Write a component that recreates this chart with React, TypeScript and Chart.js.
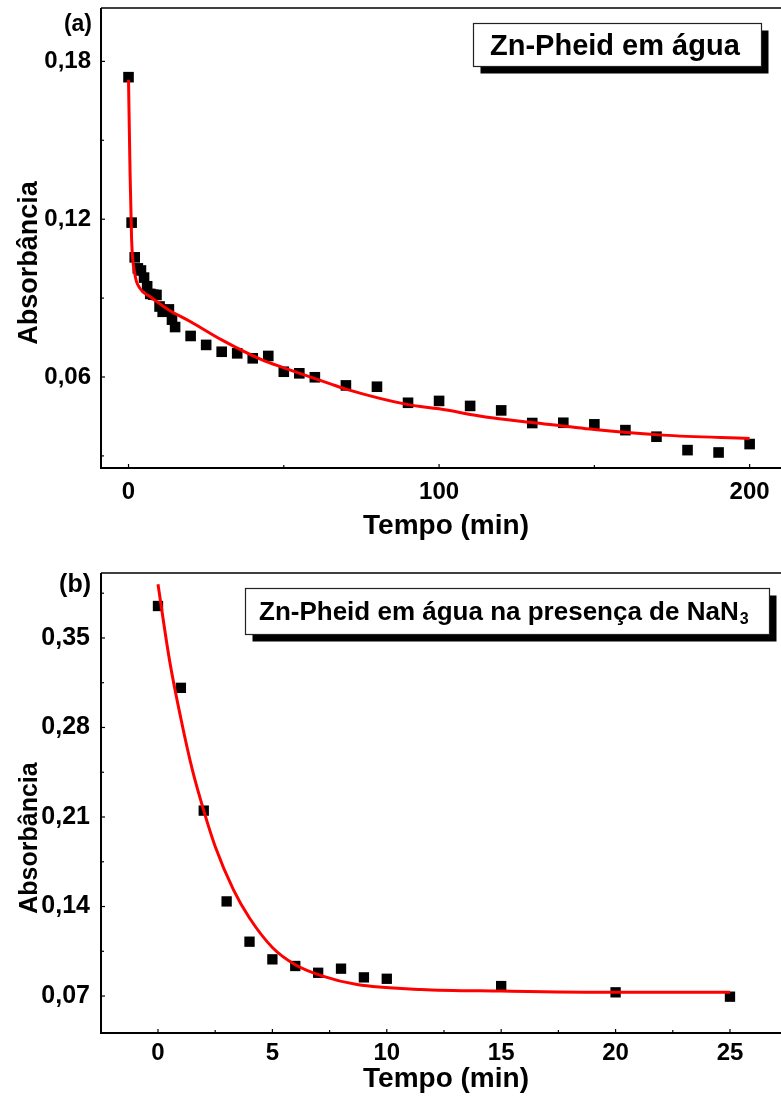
import React, { useEffect, useRef } from 'react';
import { Chart, registerables } from 'chart.js';

Chart.register(...registerables);

const FONT = "'Liberation Sans', Arial, Helvetica, sans-serif";

// ---------- Panel (a): Zn-Pheid em água ----------
const timeA = [0, 1, 2, 3, 4, 5, 6, 7, 8, 9, 10, 11, 12, 13, 14, 15, 20, 25, 30, 35, 40, 45, 50, 55, 60, 70, 80, 90, 100, 110, 120, 130, 140, 150, 160, 170, 180, 190, 200];
const absA = [0.174, 0.1187, 0.1055, 0.1013, 0.1005, 0.0978, 0.0945, 0.0916, 0.0913, 0.0912, 0.0868, 0.0848, 0.0852, 0.0857, 0.0818, 0.079, 0.0756, 0.0722, 0.0696, 0.069, 0.0671, 0.068, 0.062, 0.0614, 0.0599, 0.0568, 0.0563, 0.0502, 0.0509, 0.049, 0.0473, 0.0425, 0.0426, 0.042, 0.0398, 0.0373, 0.0322, 0.0313, 0.0345];
const fitTimeA = [0, 0.5, 1, 2, 3.7, 7, 13, 20, 30, 43, 50, 65, 70, 90, 100, 115, 130, 150, 172, 200];
const fitAbsA = [0.173, 0.1375, 0.1121, 0.0994, 0.0937, 0.0905, 0.0855, 0.081, 0.0741, 0.0665, 0.0635, 0.0574, 0.0554, 0.0495, 0.0479, 0.0448, 0.0427, 0.04, 0.0379, 0.0366];
const xTicksA = [0, 100, 200];
const xMinorA = [50, 150];
const yTicksA = [0.06, 0.12, 0.18];
const yTickLabelsA = ['0,06', '0,12', '0,18'];
const yMinorA = [0.03, 0.09, 0.15];
const legendA = 'Zn-Pheid em água';

// ---------- Panel (b): Zn-Pheid em água na presença de NaN3 ----------
const timeB = [0, 1, 2, 3, 4, 5, 6, 7, 8, 9, 10, 15, 20, 25];
const absB = [0.375, 0.311, 0.215, 0.144, 0.1125, 0.0987, 0.0935, 0.0882, 0.0914, 0.0846, 0.0835, 0.0778, 0.0729, 0.0695];
const fitTimeB = [0, 0.5, 1, 1.5, 2, 2.5, 3.3, 4, 5, 6, 7.2, 8.7, 11.5, 15, 20, 25];
const fitAbsB = [0.392, 0.333, 0.287, 0.247, 0.215, 0.187, 0.153, 0.131, 0.108, 0.0945, 0.0856, 0.079, 0.0752, 0.0739, 0.0729, 0.0729];
const xTicksB = [0, 5, 10, 15, 20, 25];
const xMinorB = [2.5, 7.5, 12.5, 17.5, 22.5];
const yTicksB = [0.07, 0.14, 0.21, 0.28, 0.35];
const yTickLabelsB = ['0,07', '0,14', '0,21', '0,28', '0,35'];
const yMinorB = [0.105, 0.175, 0.245, 0.315, 0.385];
const legendB = 'Zn-Pheid em água na presença de NaN';
const legendBSub = '3';

const xTitle = 'Tempo (min)';
const yTitle = 'Absorbância';

type PanelCfg = {
  width: number;
  height: number;
  top: number;
  padTop: number;
  axisW: number;
  axisH: number;
  xMin: number;
  xMax: number;
  yMin: number;
  yMax: number;
  xTicks: number[];
  xMinor: number[];
  yTicks: number[];
  yTickLabels: string[];
  yMinor: number[];
  xPad: number;
  yPad: number;
  tickSize: number;
  yTickSize: number;
  times: number[];
  values: number[];
  fitT: number[];
  fitV: number[];
  pointR: number;
  panelLabel: string;
  panelSize: number;
  panelX: number;
  panelY: number;
  xTitleSize: number;
  xTitleX: number;
  xTitleY: number;
  yTitleSize: number;
  yTitleX: number;
  yTitleY: number;
  legend: string;
  legendSub: string;
  legendSize: number;
  box: [number, number, number, number];
  textX: number;
  textY: number;
};

function makeDeco(cfg: PanelCfg) {
  return {
    id: 'deco',
    afterDraw(chart: any) {
      const { ctx, chartArea: ca } = chart;
      const xs = chart.scales.x;
      const ys = chart.scales.y;
      ctx.save();
      ctx.strokeStyle = '#000';
      ctx.lineWidth = 1.3;
      ctx.beginPath();
      ctx.moveTo(ca.left, ca.top);
      ctx.lineTo(ca.right, ca.top);
      ctx.stroke();
      ctx.lineWidth = 2;
      ctx.beginPath();
      ctx.moveTo(ca.left, ca.top);
      ctx.lineTo(ca.left, ca.bottom);
      ctx.lineTo(ca.right, ca.bottom);
      ctx.stroke();
      // inward ticks
      ctx.lineWidth = 1.2;
      const xt = (vals: number[], len: number) => {
        vals.forEach((v) => {
          const px = xs.getPixelForValue(v);
          ctx.beginPath();
          ctx.moveTo(px, ca.bottom);
          ctx.lineTo(px, ca.bottom - len);
          ctx.stroke();
        });
      };
      const yt = (vals: number[], len: number) => {
        vals.forEach((v) => {
          const py = ys.getPixelForValue(v);
          ctx.beginPath();
          ctx.moveTo(ca.left, py);
          ctx.lineTo(ca.left + len, py);
          ctx.stroke();
        });
      };
      xt(cfg.xTicks, 4);
      xt(cfg.xMinor, 3);
      yt(cfg.yTicks, 4);
      yt(cfg.yMinor, 3);

      ctx.fillStyle = '#000';
      // panel label
      ctx.font = `bold ${cfg.panelSize}px ${FONT}`;
      ctx.textAlign = 'right';
      ctx.textBaseline = 'alphabetic';
      ctx.fillText(cfg.panelLabel, cfg.panelX, cfg.panelY);
      // x title
      ctx.font = `bold ${cfg.xTitleSize}px ${FONT}`;
      ctx.textAlign = 'center';
      ctx.fillText(xTitle, cfg.xTitleX, cfg.xTitleY);
      // y title
      ctx.save();
      ctx.translate(cfg.yTitleX, cfg.yTitleY);
      ctx.rotate(-Math.PI / 2);
      ctx.font = `bold ${cfg.yTitleSize}px ${FONT}`;
      ctx.textAlign = 'center';
      ctx.fillText(yTitle, 0, 0);
      ctx.restore();

      // legend box with shadow
      const [bx, by, bw, bh] = cfg.box;
      ctx.fillStyle = '#000';
      ctx.fillRect(bx + 7, by + 7, bw, bh);
      ctx.fillStyle = '#fff';
      ctx.fillRect(bx, by, bw, bh);
      ctx.strokeStyle = '#222';
      ctx.lineWidth = 1.2;
      ctx.strokeRect(bx, by, bw, bh);
      ctx.fillStyle = '#000';
      ctx.font = `bold ${cfg.legendSize}px ${FONT}`;
      ctx.textAlign = 'left';
      ctx.fillText(cfg.legend, cfg.textX, cfg.textY);
      if (cfg.legendSub) {
        const w = ctx.measureText(cfg.legend).width;
        ctx.font = `bold ${Math.round(cfg.legendSize * 0.62)}px ${FONT}`;
        ctx.fillText(cfg.legendSub, cfg.textX + w + 1, cfg.textY + 4);
      }
      ctx.restore();
    },
  };
}

const zeroPad = (s: any) => {
  s.paddingTop = 0;
  s.paddingBottom = 0;
  s.paddingLeft = 0;
  s.paddingRight = 0;
};

function Panel({ cfg }: { cfg: PanelCfg }) {
  const ref = useRef<HTMLCanvasElement | null>(null);
  useEffect(() => {
    if (!ref.current) return;
    const pts = cfg.times.map((t, i) => ({ x: t, y: cfg.values[i] }));
    const fit = cfg.fitT.map((t, i) => ({ x: t, y: cfg.fitV[i] }));
    const chart = new Chart(ref.current, {
      type: 'scatter',
      data: {
        datasets: [
          {
            data: pts,
            pointStyle: 'rect',
            pointRadius: cfg.pointR,
            pointBackgroundColor: '#000',
            pointBorderColor: '#000',
            pointBorderWidth: 0,
            showLine: false,
            order: 2,
          },
          {
            data: fit,
            showLine: true,
            borderColor: '#ff0000',
            borderWidth: 3,
            pointRadius: 0,
            cubicInterpolationMode: 'monotone',
            fill: false,
            order: 1,
          },
        ],
      },
      options: {
        responsive: false,
        animation: false,
        devicePixelRatio: 1,
        layout: { autoPadding: false, padding: { top: cfg.padTop, left: 0, right: 0, bottom: 0 } },
        plugins: { legend: { display: false }, tooltip: { enabled: false } },
        events: [],
        scales: {
          x: {
            type: 'linear',
            min: cfg.xMin,
            max: cfg.xMax,
            grid: { display: false, drawTicks: false },
            border: { display: false },
            afterBuildTicks: (s: any) => {
              s.ticks = cfg.xTicks.map((v) => ({ value: v }));
            },
            afterFit: (s: any) => {
              s.height = cfg.axisH;
              zeroPad(s);
            },
            ticks: {
              autoSkip: false,
              maxRotation: 0,
              padding: cfg.xPad,
              color: '#000',
              font: { family: FONT, size: cfg.tickSize, weight: 'bold' },
              callback: (v: any) => String(v),
            },
          },
          y: {
            type: 'linear',
            min: cfg.yMin,
            max: cfg.yMax,
            grid: { display: false, drawTicks: false },
            border: { display: false },
            afterBuildTicks: (s: any) => {
              s.ticks = cfg.yTicks.map((v) => ({ value: v }));
            },
            afterFit: (s: any) => {
              s.width = cfg.axisW;
              zeroPad(s);
            },
            ticks: {
              autoSkip: false,
              padding: cfg.yPad,
              color: '#000',
              font: { family: FONT, size: cfg.yTickSize, weight: 'bold' },
              callback: (v: any) => {
                const i = cfg.yTicks.findIndex((t) => Math.abs(t - Number(v)) < 1e-9);
                return i >= 0 ? cfg.yTickLabels[i] : '';
              },
            },
          },
        },
      },
      plugins: [makeDeco(cfg)],
    } as any);
    return () => chart.destroy();
  }, [cfg]);
  return (
    <canvas
      ref={ref}
      width={cfg.width}
      height={cfg.height}
      style={{ position: 'absolute', left: 0, top: cfg.top, width: cfg.width, height: cfg.height, display: 'block' }}
    />
  );
}

const cfgA: PanelCfg = {
  width: 781,
  height: 545,
  top: 0,
  padTop: 8,
  axisW: 101,
  axisH: 77,
  xMin: -8.86,
  xMax: 210.1,
  yMin: 0.0254,
  yMax: 0.2003,
  xTicks: xTicksA,
  xMinor: xMinorA,
  yTicks: yTicksA,
  yTickLabels: yTickLabelsA,
  yMinor: yMinorA,
  xPad: 10,
  yPad: 10,
  tickSize: 24,
  yTickSize: 24,
  times: timeA,
  values: absA,
  fitT: fitTimeA,
  fitV: fitAbsA,
  pointR: 7.5,
  panelLabel: '(a)',
  panelSize: 23,
  panelX: 92,
  panelY: 31,
  xTitleSize: 28,
  xTitleX: 446,
  xTitleY: 534,
  yTitleSize: 27,
  yTitleX: 37,
  yTitleY: 263,
  legend: legendA,
  legendSub: '',
  legendSize: 29,
  box: [473.5, 23.5, 288, 43],
  textX: 490,
  textY: 55,
};

const cfgB: PanelCfg = {
  width: 781,
  height: 552,
  top: 545,
  padTop: 28,
  axisW: 101,
  axisH: 64,
  xMin: -2.491,
  xMax: 27.23,
  yMin: 0.0411,
  yMax: 0.4008,
  xTicks: xTicksB,
  xMinor: xMinorB,
  yTicks: yTicksB,
  yTickLabels: yTickLabelsB,
  yMinor: yMinorB,
  xPad: 6,
  yPad: 11,
  tickSize: 24,
  yTickSize: 25,
  times: timeB,
  values: absB,
  fitT: fitTimeB,
  fitV: fitAbsB,
  pointR: 7.3,
  panelLabel: '(b)',
  panelSize: 25,
  panelX: 91,
  panelY: 47,
  xTitleSize: 28,
  xTitleX: 446,
  xTitleY: 542,
  yTitleSize: 25,
  yTitleX: 37,
  yTitleY: 293,
  legend: legendB,
  legendSub: legendBSub,
  legendSize: 26,
  box: [245.5, 43.5, 524, 46],
  textX: 259,
  textY: 75,
};

export default function App() {
  return (
    <div style={{ position: 'absolute', left: 0, top: 0, width: 781, height: 1097, background: '#fff', overflow: 'hidden' }}>
      <Panel cfg={cfgA} />
      <Panel cfg={cfgB} />
    </div>
  );
}
